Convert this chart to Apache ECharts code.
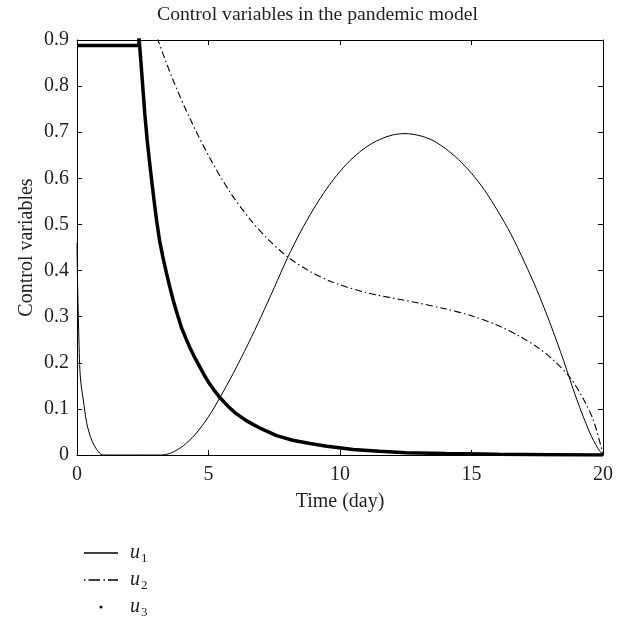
<!DOCTYPE html>
<html>
<head>
<meta charset="utf-8">
<script src="https://cdn.jsdelivr.net/npm/echarts@6/dist/echarts.min.js"></script>
<style>html,body{margin:0;padding:0;background:#fff;}#c{width:627px;height:619px;}</style>
</head>
<body>
<div id="c"></div>
<script>
var titleText = 'Control variables in the pandemic model';
var xName = 'Time (day)';
var yName = 'Control variables';
var seriesNames = ['u1', 'u2', 'u3'];
var xTicks = [0, 5, 10, 15, 20];
var yTicks = [0, 0.1, 0.2, 0.3, 0.4, 0.5, 0.6, 0.7, 0.8, 0.9];

var u1X = [0, 0.02, 0.05, 0.08, 0.11, 0.16, 0.24, 0.37, 0.56, 0.81, 1.0, 3.22, 3.6, 4.04, 4.5, 5.0, 5.43, 5.94, 6.5, 7.0, 7.5, 8.0, 8.5, 9.0, 9.5, 10.0, 10.5, 11.0, 11.5, 12.0, 12.47, 13.0, 13.5, 14.0, 14.5, 15.0, 15.5, 16.0, 16.5, 17.0, 17.5, 18.0, 18.5, 19.0, 19.5, 19.8, 20];
var u1Y = [0.46, 0.38, 0.30, 0.235, 0.184, 0.15, 0.119, 0.069, 0.032, 0.007, 0, 0, 0.005, 0.02, 0.045, 0.083, 0.124, 0.177, 0.24, 0.30, 0.363, 0.427, 0.484, 0.534, 0.578, 0.615, 0.645, 0.668, 0.684, 0.694, 0.697, 0.693, 0.683, 0.665, 0.641, 0.611, 0.574, 0.529, 0.479, 0.42, 0.356, 0.284, 0.205, 0.121, 0.048, 0.015, 0];

var u2X = [3.05, 3.09, 3.66, 4.3, 5.06, 5.82, 6.58, 7.21, 8.0, 8.86, 9.75, 11.01, 12.41, 13.04, 14.0, 14.94, 16.0, 16.84, 17.5, 18.11, 18.75, 19.25, 19.63, 19.95, 20];
var u2Y = [0.905, 0.898, 0.812, 0.729, 0.643, 0.570, 0.511, 0.471, 0.430, 0.398, 0.374, 0.352, 0.336, 0.329, 0.317, 0.303, 0.281, 0.257, 0.234, 0.206, 0.168, 0.122, 0.076, 0.013, 0];

var u3X = [0, 2.35, 2.36, 2.43, 2.5, 2.58, 2.67, 2.75, 2.83, 2.93, 3.03, 3.14, 3.27, 3.4, 3.53, 3.66, 3.82, 3.98, 4.14, 4.3, 4.49, 4.68, 4.84, 5.0, 5.22, 5.44, 5.72, 6.0, 6.45, 7.0, 7.59, 8.2, 8.86, 9.5, 10.5, 11.5, 12.5, 14, 16, 18, 20];
var u3Y = [0.888, 0.888, 0.905, 0.852, 0.8, 0.738, 0.682, 0.64, 0.6, 0.552, 0.507, 0.465, 0.428, 0.395, 0.364, 0.335, 0.304, 0.275, 0.253, 0.232, 0.21, 0.19, 0.173, 0.158, 0.14, 0.124, 0.107, 0.092, 0.074, 0.057, 0.042, 0.032, 0.025, 0.019, 0.012, 0.008, 0.005, 0.003, 0.0015, 0.0007, 0];

function pairs(xs, ys) { return xs.map(function (x, i) { return [x, ys[i]]; }); }

var FONT = '"Liberation Serif", "DejaVu Serif", serif';
var TXT = '#231f20';
var FS = 20;

var ICON_SOLID = 'path://M0,0 L34,0 L34,1.3 L0,1.3 Z';
var ICON_DASHDOT = 'path://M0,0 L1.5,0 L1.5,1.3 L0,1.3 Z M4.5,0 L16,0 L16,1.3 L4.5,1.3 Z M19.5,0 L21,0 L21,1.3 L19.5,1.3 Z M24,0 L34,0 L34,1.3 L24,1.3 Z';

var chart = echarts.init(document.getElementById('c'), null, { renderer: 'canvas' });

function legendFor(name, sub, top, icon, left, w, h) {
  return {
    data: [{ name: name, icon: icon, itemStyle: { color: '#000', borderWidth: 0 } }],
    left: left, top: top, orient: 'vertical',
    itemWidth: w, itemHeight: h,
    selectedMode: false,
    itemStyle: { borderWidth: 0 },
    formatter: function () { return '{u|u}{s|' + sub + '}'; },
    textStyle: {
      color: TXT, fontFamily: FONT,
      rich: {
        u: { fontSize: 20, lineHeight: 24, fontStyle: 'italic', fontFamily: FONT, color: TXT, padding: [0, 0, 0, 7] },
        s: { fontSize: 13, lineHeight: 13, fontFamily: FONT, color: TXT, verticalAlign: 'bottom', padding: [0, 0, 0, 1] }
      }
    }
  };
}

var option = {
  animation: false,
  backgroundColor: '#fff',
  title: {
    text: titleText, left: 152, top: 0,
    textStyle: { fontFamily: FONT, fontWeight: 'normal', fontSize: 19.7, color: TXT }
  },
  legend: [
    legendFor('u1', '1', 538, ICON_SOLID, 79, 34, 1.3),
    legendFor('u2', '2', 565, ICON_DASHDOT, 79, 34, 1.3),
    legendFor('u3', '3', 592, 'circle', 94.5, 34, 3)
  ],
  grid: { left: 77, right: 24, top: 40, bottom: 164, containLabel: false },
  xAxis: [{
    type: 'value', min: 0, max: 20, interval: 5,
    name: xName, nameLocation: 'middle', nameGap: 37,
    nameTextStyle: { fontFamily: FONT, fontSize: FS, color: TXT },
    axisLine: { show: true, onZero: false, lineStyle: { color: '#000', width: 1 } },
    axisTick: { show: true, inside: true, length: 5, lineStyle: { color: '#000' } },
    axisLabel: { fontFamily: FONT, fontSize: FS, color: TXT, margin: 10,
      formatter: function (v) { return xTicks.indexOf(v) >= 0 ? String(v) : ''; } },
    splitLine: { show: false }
  }, {
    type: 'value', min: 0, max: 20, interval: 5, position: 'top',
    axisLine: { show: true, onZero: false, lineStyle: { color: '#000', width: 1 } },
    axisTick: { show: true, inside: true, length: 5, lineStyle: { color: '#000' } },
    axisLabel: { show: false }, splitLine: { show: false }
  }],
  yAxis: [{
    type: 'value', min: 0, max: 0.9, interval: 0.1,
    name: yName, nameLocation: 'middle', nameGap: 40, nameRotate: 90, nameMoveOverlap: false,
    nameTextStyle: { fontFamily: FONT, fontSize: FS, color: TXT },
    axisLine: { show: true, onZero: false, lineStyle: { color: '#000', width: 1 } },
    axisTick: { show: true, inside: true, length: 5, lineStyle: { color: '#000' } },
    axisLabel: { fontFamily: FONT, fontSize: FS, color: TXT, margin: 8,
      formatter: function (v) {
        var r = Math.round(v * 10) / 10;
        return yTicks.indexOf(r) >= 0 ? (r === 0 ? '0' : r.toFixed(1)) : '';
      } },
    splitLine: { show: false }
  }, {
    type: 'value', min: 0, max: 0.9, interval: 0.1, position: 'right',
    axisLine: { show: true, onZero: false, lineStyle: { color: '#000', width: 1 } },
    axisTick: { show: true, inside: true, length: 5, lineStyle: { color: '#000' } },
    axisLabel: { show: false }, splitLine: { show: false }
  }],
  series: [{
    name: seriesNames[0], type: 'line', data: pairs(u1X, u1Y), showSymbol: false, symbol: 'none',
    smooth: 0.3,
    lineStyle: { color: '#000', width: 1 }, itemStyle: { color: '#000' }, clip: true, z: 3
  }, {
    name: seriesNames[1], type: 'line', data: pairs(u2X, u2Y), showSymbol: false, symbol: 'none',
    smooth: 0.3,
    lineStyle: { color: '#000', width: 1.1, type: [7, 3, 1.5, 3] }, itemStyle: { color: '#000' }, clip: true, z: 3
  }, {
    name: seriesNames[2], type: 'line', data: pairs(u3X, u3Y), showSymbol: false, symbol: 'none',
    lineStyle: { color: '#000', width: 3.5 }, itemStyle: { color: '#000' }, clip: true, z: 4
  }]
};
chart.setOption(option);
</script>
</body>
</html>
